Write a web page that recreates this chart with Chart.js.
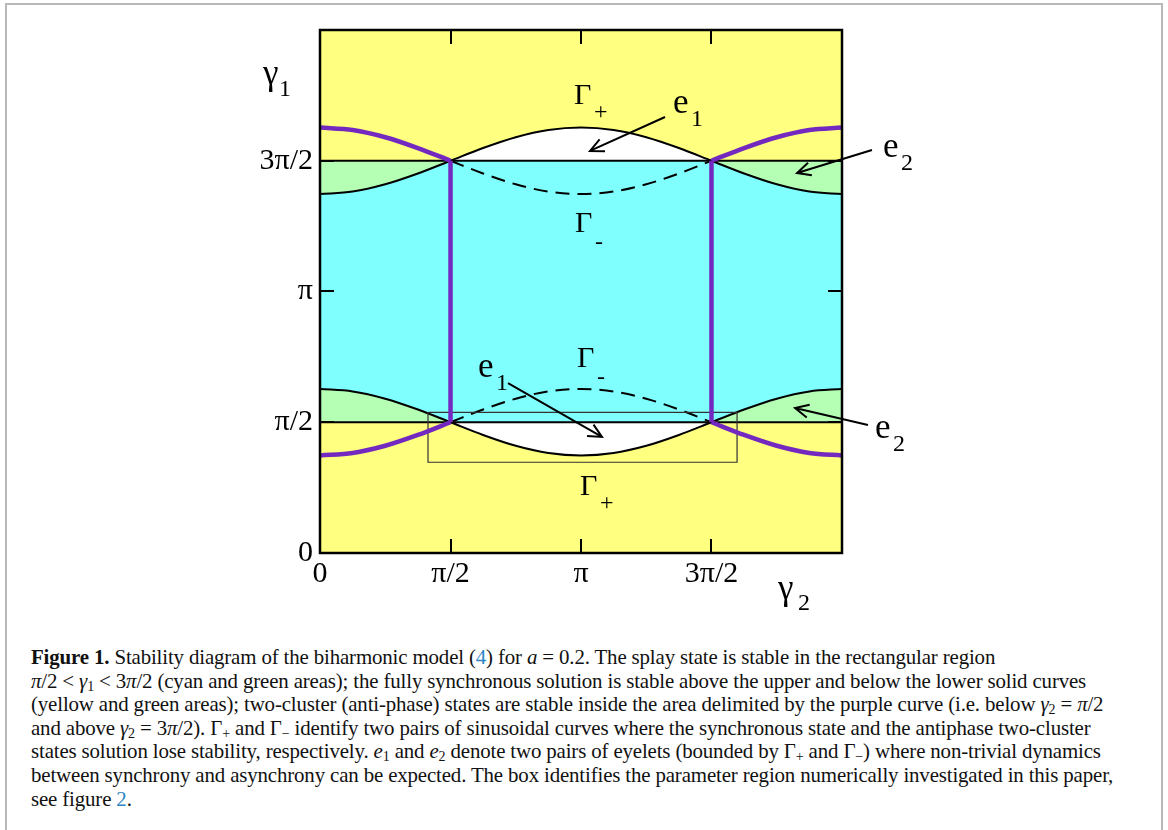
<!DOCTYPE html>
<html>
<head>
<meta charset="utf-8">
<script src="https://cdn.jsdelivr.net/npm/chart.js@4/dist/chart.umd.min.js"></script>
<style>
  body { margin: 0; width: 1168px; height: 830px; position: relative; background: #fff; overflow: hidden; }
  #frame { position: absolute; left: 5px; top: 3px; width: 1154px; height: 860px; border: 2px solid #b8b8b8; }
  #wrap { position: absolute; left: 0; top: 0; width: 1168px; height: 620px; }
  #caption {
    position: absolute; left: 31px; top: 646px; width: 1125px;
    font-family: "Liberation Serif", "Times New Roman", serif; font-size: 20.9px;
    line-height: 23.6px; color: #111; white-space: nowrap; letter-spacing: -0.15px;
  }
  #caption .m { font-style: italic; }
  #caption .ref { color: #2a86c4; }
  #caption sub { font-size: 14px; line-height: 0; vertical-align: -3px; font-style: normal; }
</style>
</head>
<body>
<div id="frame"></div>
<div id="wrap"><canvas id="chart" width="1168" height="620"></canvas></div>
<div id="caption">
<b>Figure 1.</b> Stability diagram of the biharmonic model (<span class="ref">4</span>) for <span class="m">a</span> = 0.2. The splay state is stable in the rectangular region<br>
<span class="m">π</span>/2 &lt; <span class="m">γ</span><sub>1</sub> &lt; 3<span class="m">π</span>/2 (cyan and green areas); the fully synchronous solution is stable above the upper and below the lower solid curves<br>
(yellow and green areas); two-cluster (anti-phase) states are stable inside the area delimited by the purple curve (i.e. below <span class="m">γ</span><sub>2</sub> = <span class="m">π</span>/2<br>
and above <span class="m">γ</span><sub>2</sub> = 3<span class="m">π</span>/2). Γ<sub>+</sub> and Γ<sub>−</sub> identify two pairs of sinusoidal curves where the synchronous state and the antiphase two-cluster<br>
states solution lose stability, respectively. <span class="m">e</span><sub>1</sub> and <span class="m">e</span><sub>2</sub> denote two pairs of eyelets (bounded by Γ<sub>+</sub> and Γ<sub>−</sub>) where non-trivial dynamics<br>
between synchrony and asynchrony can be expected. The box identifies the parameter region numerically investigated in this paper,<br>
see figure <span class="ref">2</span>.
</div>
<script>
// γ2 sample positions (rad) and the curves (rad)
const gamma2 = [0, 0.393, 0.785, 1.178, 1.571, 1.963, 2.356, 2.749, 3.142, 3.534, 3.927, 4.320, 4.712, 5.105, 5.498, 5.890, 6.283];
const gammaPlusUpper = [4.312, 4.342, 4.429, 4.559, 4.712, 4.865, 4.995, 5.082, 5.112, 5.082, 4.995, 4.865, 4.712, 4.559, 4.429, 4.342, 4.312];
const gammaPlusLower = [1.971, 1.941, 1.854, 1.724, 1.571, 1.418, 1.288, 1.201, 1.171, 1.201, 1.288, 1.418, 1.571, 1.724, 1.854, 1.941, 1.971];
const gammaMinusUpper = [5.112, 5.082, 4.995, 4.865, 4.712, 4.559, 4.429, 4.342, 4.312, 4.342, 4.429, 4.559, 4.712, 4.865, 4.995, 5.082, 5.112];
const gammaMinusLower = [1.171, 1.201, 1.288, 1.418, 1.571, 1.724, 1.854, 1.941, 1.971, 1.941, 1.854, 1.724, 1.571, 1.418, 1.288, 1.201, 1.171];

const splayLow = 1.571;   // π/2
const splayHigh = 4.712;  // 3π/2
const axisMax = 6.283;

const xTickValues = [0, 1.571, 3.142, 4.712];
const xTickLabels = ['0', 'π/2', 'π', '3π/2'];
const yTickValues = [0, 1.571, 3.142, 4.712];
const yTickLabels = ['0', 'π/2', 'π', '3π/2'];

// numerically investigated box: [γ2 min, γ2 max, γ1 min, γ1 max]
const boxX = [1.30, 5.02];
const boxY = [1.09, 1.69];

// curve labels: text, subscript, γ2, γ1 (left / baseline of main glyph)
const labelText = ['Γ', 'e', 'e', 'Γ', 'Γ', 'e', 'Γ', 'e'];
const labelSub = ['+', '1', '2', '-', '-', '1', '+', '2'];
const labelX = [3.057, 4.249, 6.777, 3.069, 3.094, 1.902, 3.130, 6.681];
const labelY = [5.394, 5.286, 4.758, 3.856, 2.235, 2.114, 0.697, 1.382];

// arrows: tail -> head
const arrowFromX = [4.153, 6.644, 2.263, 6.596];
const arrowFromY = [5.238, 4.842, 2.042, 1.538];
const arrowToX = [3.250, 5.742, 3.394, 5.718];
const arrowToY = [4.830, 4.565, 1.394, 1.742];

const YELLOW = '#ffff80';
const CYAN = '#80ffff';
const GREEN = '#b4ffb4';
const PURPLE = '#7329bf';
const SERIF = '"Liberation Serif", "Times New Roman", serif';

const pts = (xs, ys) => xs.map((x, i) => ({ x, y: ys[i] }));
const left = gamma2.slice(0, 5), mid = gamma2.slice(4, 13), right = gamma2.slice(12);

function curve(data, color, width, extra) {
  return Object.assign({
    data, borderColor: color, borderWidth: width, pointRadius: 0,
    cubicInterpolationMode: 'monotone', fill: false
  }, extra || {});
}

const datasets = [
  curve(pts(left, gammaMinusUpper.slice(0, 5)), PURPLE, 4.5, { order: 0 }),
  curve(pts(left, gammaMinusLower.slice(0, 5)), PURPLE, 4.5, { order: 0 }),
  curve(pts(right, gammaMinusUpper.slice(12)), PURPLE, 4.5, { order: 0 }),
  curve(pts(right, gammaMinusLower.slice(12)), PURPLE, 4.5, { order: 0 }),
  curve(pts([gamma2[4], gamma2[4]], [splayLow, splayHigh]), PURPLE, 4.5, { order: 0 }),
  curve(pts([gamma2[12], gamma2[12]], [splayLow, splayHigh]), PURPLE, 4.5, { order: 0 }),
  curve(pts(mid, gammaMinusUpper.slice(4, 13)), '#000', 2, { order: 2, borderDash: [14, 8] }),
  curve(pts(mid, gammaMinusLower.slice(4, 13)), '#000', 2, { order: 2, borderDash: [14, 8] }),
  curve(pts(gamma2, gammaPlusUpper), '#000', 2, { order: 4, fill: { target: 10, above: '#ffffff', below: GREEN } }),
  curve(pts(gamma2, gammaPlusLower), '#000', 2, { order: 4, fill: { target: 11, above: GREEN, below: '#ffffff' } }),
  curve(pts([0, axisMax], [splayHigh, splayHigh]), '#000', 2, { order: 5, fill: { target: 11, above: CYAN, below: CYAN } }),
  curve(pts([0, axisMax], [splayLow, splayLow]), '#000', 2, { order: 5 }),
  curve(pts([boxX[0], boxX[1], boxX[1], boxX[0], boxX[0]], [boxY[1], boxY[1], boxY[0], boxY[0], boxY[1]]),
    '#333', 1.2, { order: 1, cubicInterpolationMode: 'default', tension: 0 })
];

function drawArrow(ctx, x1, y1, x2, y2) {
  const ang = Math.atan2(y2 - y1, x2 - x1);
  const len = 15, spread = 0.45;
  ctx.beginPath();
  ctx.moveTo(x1, y1);
  ctx.lineTo(x2, y2);
  ctx.moveTo(x2 - len * Math.cos(ang - spread), y2 - len * Math.sin(ang - spread));
  ctx.lineTo(x2, y2);
  ctx.lineTo(x2 - len * Math.cos(ang + spread), y2 - len * Math.sin(ang + spread));
  ctx.stroke();
}

function drawSubLabel(ctx, x, y, main, sub, mainSize, subSize, dx, dy) {
  ctx.font = mainSize + 'px ' + SERIF;
  ctx.fillText(main, x, y);
  ctx.font = subSize + 'px ' + SERIF;
  ctx.fillText(sub, x + dx, y + dy);
}

const stabilityPlugin = {
  id: 'stability',
  beforeDraw(chart) {
    const { ctx, chartArea: a } = chart;
    ctx.save();
    ctx.fillStyle = YELLOW;
    ctx.fillRect(a.left, a.top, a.width, a.height);
    ctx.restore();
  },
  afterDraw(chart) {
    const { ctx, chartArea: a } = chart;
    const xs = chart.scales.x, ys = chart.scales.y;
    ctx.save();
    ctx.strokeStyle = '#000';
    ctx.fillStyle = '#000';

    // frame
    ctx.lineWidth = 2.5;
    ctx.strokeRect(a.left, a.top, a.width, a.height);

    // inner ticks on all four sides
    ctx.lineWidth = 2;
    ctx.beginPath();
    xTickValues.forEach(v => {
      if (v === 0) return;
      const px = Math.round(xs.getPixelForValue(v));
      ctx.moveTo(px, a.bottom); ctx.lineTo(px, a.bottom - 14);
      ctx.moveTo(px, a.top); ctx.lineTo(px, a.top + 14);
    });
    yTickValues.forEach(v => {
      if (v === 0) return;
      const py = Math.round(ys.getPixelForValue(v));
      ctx.moveTo(a.left, py); ctx.lineTo(a.left + 14, py);
      ctx.moveTo(a.right, py); ctx.lineTo(a.right - 14, py);
    });
    ctx.stroke();

    // arrows
    ctx.lineWidth = 2;
    arrowFromX.forEach((_, i) => {
      drawArrow(ctx,
        xs.getPixelForValue(arrowFromX[i]), ys.getPixelForValue(arrowFromY[i]),
        xs.getPixelForValue(arrowToX[i]), ys.getPixelForValue(arrowToY[i]));
    });

    // curve labels
    ctx.textAlign = 'left';
    ctx.textBaseline = 'alphabetic';
    labelText.forEach((t, i) => {
      const px = xs.getPixelForValue(labelX[i]);
      const py = ys.getPixelForValue(labelY[i]);
      if (t === 'Γ') {
        const dy = labelSub[i] === '+' ? 15 : 17;
        drawSubLabel(ctx, px, py, t, labelSub[i], 30, 24, 20, dy);
      } else {
        drawSubLabel(ctx, px, py, t, labelSub[i], 35, 24, 18, 13);
      }
    });

    // axis names
    drawSubLabel(ctx, a.left - 57, a.top + 54, 'γ', '1', 35, 24, 16, 12);
    drawSubLabel(ctx, a.right - 64, a.bottom + 46, 'γ', '2', 35, 24, 20, 11);
    ctx.restore();
  }
};

new Chart(document.getElementById('chart'), {
  type: 'line',
  data: { datasets },
  options: {
    responsive: false,
    animation: false,
    layout: { padding: { left: 260, top: 30, right: 326, bottom: 27 } },
    plugins: {
      legend: { display: false },
      tooltip: { enabled: false },
      filler: { drawTime: 'beforeDatasetsDraw' }
    },
    scales: {
      x: {
        type: 'linear', min: 0, max: axisMax,
        grid: { display: false, drawTicks: false },
        border: { display: false },
        afterBuildTicks: s => { s.ticks = xTickValues.map(v => ({ value: v })); },
        afterFit: s => { s.height = 40; },
        ticks: {
          padding: 3, color: '#000', maxRotation: 0, autoSkip: false,
          font: { family: SERIF, size: 30 },
          callback: v => xTickLabels[xTickValues.indexOf(v)]
        }
      },
      y: {
        type: 'linear', min: 0, max: axisMax,
        grid: { display: false, drawTicks: false },
        border: { display: false },
        afterBuildTicks: s => { s.ticks = yTickValues.map(v => ({ value: v })); },
        afterFit: s => { s.width = 60; },
        ticks: {
          padding: 7, color: '#000', autoSkip: false,
          font: { family: SERIF, size: 30 },
          callback: v => yTickLabels[yTickValues.indexOf(v)]
        }
      }
    }
  },
  plugins: [stabilityPlugin]
});
</script>
</body>
</html>
